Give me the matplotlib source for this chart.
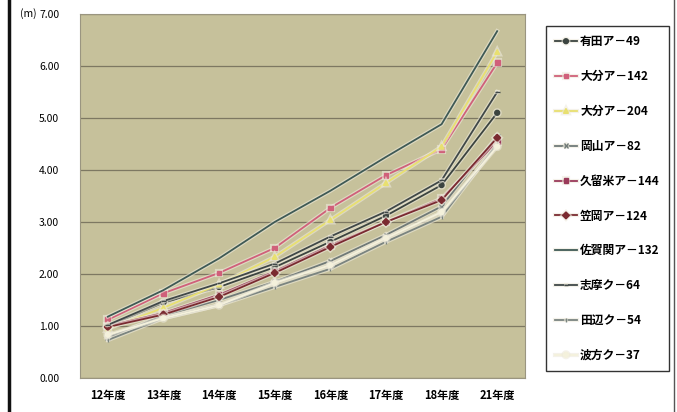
import numpy as np
import matplotlib.pyplot as plt
import matplotlib.patheffects as pe

plt.rcParams['font.family'] = ['Noto Sans CJK JP', 'DejaVu Sans']

years = ['12年度', '13年度', '14年度', '15年度', '16年度', '17年度', '18年度', '21年度']

# 各地点の値 (m)
arita_49 = [1.00, 1.45, 1.75, 2.13, 2.62, 3.12, 3.71, 5.10]
oita_142 = [1.12, 1.63, 2.02, 2.50, 3.27, 3.90, 4.40, 6.06]
oita_204 = [0.95, 1.35, 1.80, 2.33, 3.04, 3.75, 4.45, 6.27]
okayama_82 = [0.78, 1.20, 1.50, 1.85, 2.25, 2.75, 3.30, 4.65]
kurume_144 = [1.00, 1.25, 1.60, 2.05, 2.55, 3.00, 3.45, 4.55]
kasaoka_124 = [0.98, 1.22, 1.56, 2.02, 2.52, 3.00, 3.42, 4.62]
saganoseki_132 = [1.18, 1.69, 2.30, 3.00, 3.60, 4.25, 4.88, 6.67]
shima_64 = [1.02, 1.48, 1.82, 2.20, 2.72, 3.20, 3.80, 5.50]
tanabe_54 = [0.73, 1.15, 1.40, 1.75, 2.10, 2.62, 3.10, 4.50]
namikata_37 = [0.83, 1.15, 1.40, 1.83, 2.17, 2.69, 3.19, 4.45]

labels = ['有田ア－49', '大分ア－142', '大分ア－204', '岡山ア－82', '久留米ア－144',
          '笠岡ア－124', '佐賀関ア－132', '志摩ク－64', '田辺ク－54', '波方ク－37']
series = [arita_49, oita_142, oita_204, okayama_82, kurume_144,
          kasaoka_124, saganoseki_132, shima_64, tanabe_54, namikata_37]
colors = ['#3c4440', '#d0607a', '#e8e070', '#707a78', '#9a3a5a',
          '#7a2a30', '#3f5a55', '#404848', '#7a8480', '#f4f1dc']
markers = ['o', 's', '^', 'x', 's', 'D', '', '_', '|', 'o']

fig = plt.figure(figsize=(6.77, 4.12), dpi=100)
ax = fig.add_axes([80 / 677, 34 / 412, 445 / 677, 364 / 412])
ax.set_facecolor('#c6c19b')

x = np.arange(len(years))
for vals, lab, col, mk in zip(series, labels, colors, markers):
    ax.plot(x, vals, color=col, marker=mk, markersize=3.5, linewidth=1.3, label=lab,
            path_effects=[pe.Stroke(linewidth=3, foreground='#eeeadc', alpha=0.6), pe.Normal()])

ax.set_xlim(-0.5, len(years) - 0.5)
ax.set_ylim(0, 7)
ax.set_yticks(np.arange(0, 8, 1))
ax.set_yticklabels(['%.2f' % v for v in np.arange(0, 8, 1)], fontsize=7.5)
ax.set_xticks(x)
ax.set_xticklabels(years, fontsize=8, fontweight='bold')
ax.yaxis.grid(True, color='#7d7862', linewidth=0.9)
ax.set_axisbelow(True)
ax.tick_params(axis='x', length=0, pad=8)
ax.tick_params(axis='y', length=0, pad=15)
for s in ax.spines.values():
    s.set_color('#9a9580')
    s.set_linewidth(0.8)
ax.text(-0.098, 1.0, '(m)', transform=ax.transAxes, fontsize=7.5, ha='right', va='center')

fig.legend(loc='upper left', bbox_to_anchor=(540 / 677, 1 - 20 / 412),
           labelspacing=1.85, handlelength=1.8, handletextpad=0.3, borderpad=0.8,
           fancybox=False, edgecolor='#333333', framealpha=1,
           prop={'weight': 'bold', 'size': 8.5})

fig.add_artist(plt.Line2D([9 / 677, 9 / 677], [0, 1], color='#111111', linewidth=2.5))
fig.add_artist(plt.Line2D([674 / 677, 674 / 677], [0, 1], color='#555555', linewidth=1))

fig.savefig('out.png', dpi=100)
